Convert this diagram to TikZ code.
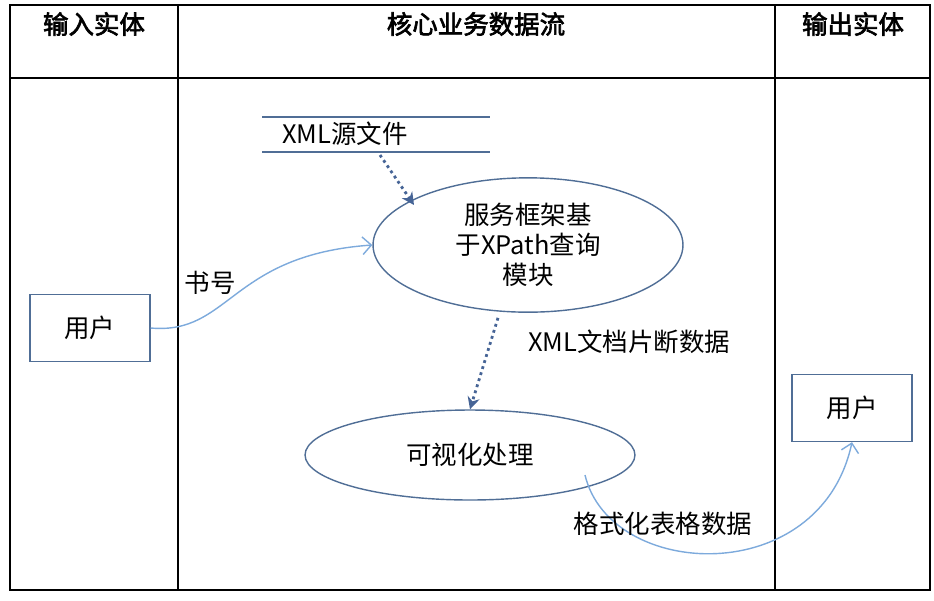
\documentclass[tikz,border=0pt]{standalone}
\usepackage{fontspec}
\setmainfont{Noto Sans CJK SC}[AutoFakeBold=2.5]
\usetikzlibrary{shapes.geometric,arrows.meta}
\definecolor{boxline}{RGB}{80,110,150}
\definecolor{flowline}{RGB}{125,170,220}
\definecolor{dotline}{RGB}{70,100,150}
\tikzset{
	header/.style = {font=\bfseries\fontsize{14.5}{16}\selectfont},
	label/.style = {font=\fontsize{14.5}{17}\selectfont, align=center},
	entity/.style = {label, draw=boxline, thick, minimum width=2.4cm, minimum height=1.34cm},
	process/.style = {label, ellipse, draw=boxline, thick},
	dotflow/.style = {dotline, line width=1.6pt, dotted, -{Stealth[length=7pt,width=7pt]}},
	flow/.style = {flowline, thick, -{Straight Barb[length=5pt]}}
}
\begin{document}
\begin{tikzpicture}[x=0.02cm,y=-0.02cm]
		\useasboundingbox (0,0) rectangle (934,600);
		% swimlanes
		\draw[thick] (10,5) rectangle (930,590);
		\draw[thick] (10,78) -- (930,78);
		\draw[thick] (178,5) -- (178,590);
		\draw[thick] (775,5) -- (775,590);
		\node [header] (hin) at (94,24) {输入实体};
		\node [header] (hcore) at (476,24) {核心业务数据流};
		\node [header] (hout) at (853,24) {输出实体};
		% entities
		\node [entity] (userin) at (90,328) {用户};
		\node [entity] (userout) at (852,408) {用户};
		% data store
		\draw[thick, boxline] (262,117) -- (490,117);
		\draw[thick, boxline] (262,152) -- (490,152);
		\node [label] (xmlsrc) at (345,134) {XML源文件};
		\coordinate (storeout) at (380,155);
		% processes
		\node [process, minimum width=6.2cm, minimum height=2.0cm] (query) at (528,245)
			{服务框架基\\于XPath查询\\模块};
		\node [process, minimum width=6.6cm, minimum height=1.8cm] (visual) at (470,455) {可视化处理};
		% flows
		\draw [dotflow] (storeout) -- (414,205);
		\draw [dotflow] (query.south) ++(-30,5) coordinate (qout) (qout) -- (visual.north);
		\node [label, anchor=west] (fraglbl) at (522,342) {XML文档片断数据};
		\draw [flow] (userin.east) .. controls (230,335) and (230,255) .. (query.west);
		\node [label] (booklbl) at (210,283) {书号};
		\draw [flow] (585,475) .. controls (610,580) and (820,590) .. (userout.south);
		\node [label] (tablelbl) at (663,524) {格式化表格数据};
\end{tikzpicture}
\end{document}
